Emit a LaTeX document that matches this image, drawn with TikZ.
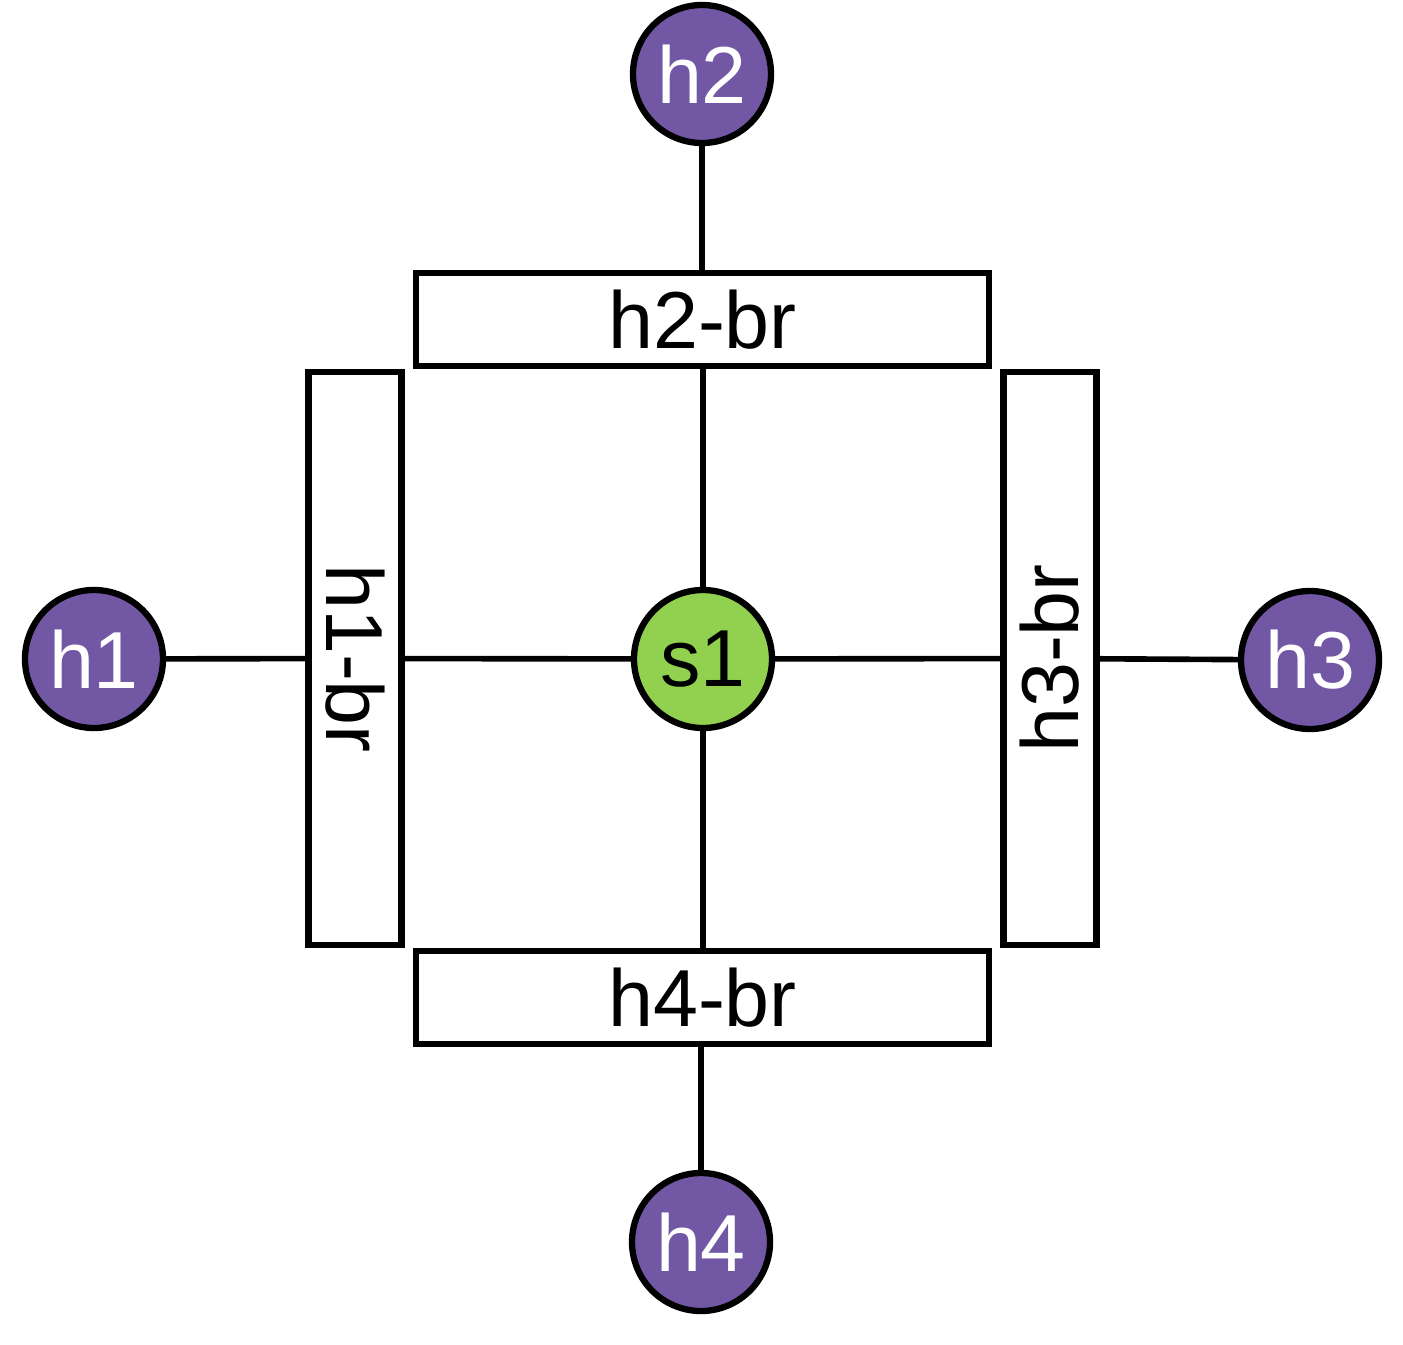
\documentclass[tikz,border=0pt]{standalone}
\usepackage{fontspec}
\setmainfont{Liberation Sans}
\usepackage{xcolor}
\definecolor{hostpurple}{HTML}{7257A5}
\definecolor{switchgreen}{HTML}{92D050}
\begin{document}
\begin{tikzpicture}[
  host/.style={circle,draw=black,line width=1.8pt,fill=hostpurple,text=white,
    minimum size=1.38cm,inner sep=0pt,font=\fontsize{23}{25}\selectfont},
  switch/.style={host,fill=switchgreen,text=black},
  bridge/.style={rectangle,draw=black,line width=1.8pt,fill=white,
    minimum width=5.73cm,minimum height=0.93cm,inner sep=0pt,
    font=\fontsize{23}{25}\selectfont},
  link/.style={line width=1.6pt}]
\useasboundingbox (0,0) rectangle (14.03,13.44);
\node[switch] (s1) at (7.03,6.85) {s1};
\node[host] (h1) at (0.94,6.85) {h1};
\node[host] (h2) at (7.02,12.70) {h2};
\node[host] (h3) at (13.10,6.84) {h3};
\node[host] (h4) at (7.01,1.02) {h4};
\node[bridge] (h1br) at (3.55,6.855) [rotate=-90] {h1-br};
\node[bridge] (h2br) at (7.025,10.245) {h2-br};
\node[bridge] (h3br) at (10.50,6.855) [rotate=90] {h3-br};
\node[bridge] (h4br) at (7.025,3.465) {h4-br};
\draw[link] (h1) -- (h1br);
\draw[link] (h1br) -- (s1);
\draw[link] (h2) -- (h2br.north -| h2);
\draw[link] (h2br.south -| s1) -- (s1);
\draw[link] (s1) -- (h3br);
\draw[link] (h3br) -- (h3);
\draw[link] (s1) -- (h4br.north -| s1);
\draw[link] (h4br.south -| h4) -- (h4);
\end{tikzpicture}
\end{document}
